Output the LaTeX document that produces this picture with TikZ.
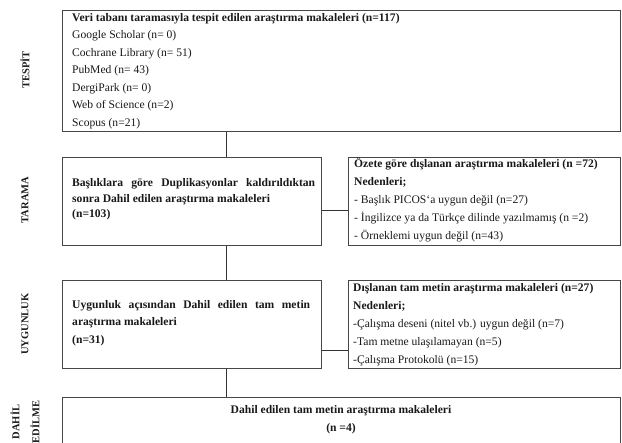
\documentclass[tikz,border=0pt]{standalone}
\usepackage{fontspec}
\setmainfont{Liberation Serif}
\begin{document}
\begin{tikzpicture}[x=1pt,y=-1pt,
  box/.style={draw=black!72, line width=0.9pt, inner sep=0pt, anchor=north west},
  txt/.style={anchor=base west, inner sep=0pt, align=left, text=black!90},
  lab/.style={rotate=90, inner sep=0pt, align=center, text=black!90,
    font=\bfseries\fontsize{10.5}{20}\selectfont},
  link/.style={draw=black!80, line width=0.7pt}]
\useasboundingbox (0,0) rectangle (622,443);
\clip (0,0) rectangle (622,443);

% boxes
\node[box, minimum width=558pt, minimum height=121pt] (b1) at (62,10) {};
\node[box, minimum width=259pt, minimum height=88pt] (b2) at (62,157) {};
\node[box, minimum width=272pt, minimum height=88pt] (r2) at (348,157) {};
\node[box, minimum width=259pt, minimum height=88pt] (b3) at (62,280) {};
\node[box, minimum width=272pt, minimum height=88pt] (r3) at (348,280) {};
\node[box, minimum width=558pt, minimum height=80pt] (b4) at (62,397) {};

% texts (anchor = baseline of the last line)
\node[txt, font=\fontsize{11.6}{17.5}\selectfont] (t1) at (72,126.3)
  {\textbf{Veri tabanı taramasıyla tespit edilen araştırma makaleleri (n=117)}\\
   Google Scholar (n= 0)\\
   Cochrane Library (n= 51)\\
   PubMed (n= 43)\\
   DergiPark (n= 0)\\
   Web of Science (n=2)\\
   Scopus (n=21)};

\node[txt, font=\bfseries\fontsize{11.6}{15.8}\selectfont] (t2) at (72,218)
  {\hbox to 243pt{Başlıklara\hfill göre\hfill Duplikasyonlar\hfill kaldırıldıktan}\\
   sonra Dahil edilen araştırma makaleleri\\
   (n=103)};

\node[txt, font=\fontsize{11.6}{18}\selectfont] (t3) at (354,239.5)
  {\textbf{Özete göre dışlanan araştırma makaleleri (n =72)}\\
   \textbf{Nedenleri;}\\
   - Başlık PICOS\symbol{96}a uygun değil (n=27)\\
   - İngilizce ya da Türkçe dilinde yazılmamış (n =2)\\
   - Örneklemi uygun değil (n=43)};

\node[txt, font=\bfseries\fontsize{11.6}{17.5}\selectfont] (t4) at (72,343.5)
  {\hbox to 238pt{Uygunluk\hfill açısından\hfill Dahil\hfill edilen\hfill tam\hfill metin}\\
   araştırma makaleleri\\
   (n=31)};

\node[txt, font=\fontsize{11.6}{18}\selectfont] (t5) at (353,363.5)
  {\textbf{Dışlanan tam metin araştırma makaleleri (n=27)}\\
   \textbf{Nedenleri;}\\
   -Çalışma deseni (nitel vb.) uygun değil (n=7)\\
   -Tam metne ulaşılamayan (n=5)\\
   -Çalışma Protokolü (n=15)};

\node[anchor=base, inner sep=0pt, align=center, text=black!90,
  font=\bfseries\fontsize{11.6}{18}\selectfont] (t6) at (341,431.5)
  {Dahil edilen tam metin araştırma makaleleri\\(n =4)};

% stage labels
\node[lab] (l1) at (25,70) {TESPİT};
\node[lab] (l2) at (25,200) {TARAMA};
\node[lab] (l3) at (25,324) {UYGUNLUK};
\node[lab] (l4) at (25,422) {DAHİL\\EDİLME};

% connectors
\coordinate (spine) at (226,0);
\coordinate (h1) at (0,210);
\coordinate (h2) at (0,350);
\draw[link] (b1.south -| spine) -- (b2.north -| spine);
\draw[link] (b2.south -| spine) -- (b3.north -| spine);
\draw[link] (b3.south -| spine) -- (b4.north -| spine);
\draw[link] (b2.east |- h1) -- (r2.west |- h1);
\draw[link] (b3.east |- h2) -- (r3.west |- h2);
\end{tikzpicture}
\end{document}
